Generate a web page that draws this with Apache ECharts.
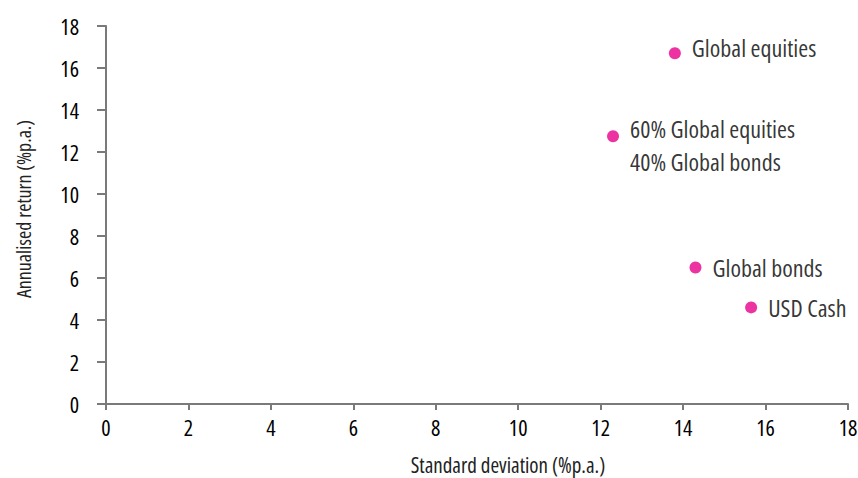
<!DOCTYPE html>
<html>
<head>
<meta charset="utf-8">
<script src="https://cdn.jsdelivr.net/npm/echarts@6/dist/echarts.min.js"></script>
<style>
html,body{margin:0;padding:0;background:#fff}
#c{width:858px;height:478px}
#c svg text{font-stretch:75% !important;}
</style>
</head>
<body>
<div id="c"></div>
<script>
const names = ['Global equities', '60% Global equities\n40% Global bonds', 'Global bonds', 'USD Cash'];
const stdDev = [13.8, 12.3, 14.3, 15.65];
const annReturn = [16.7, 12.75, 6.5, 4.6];
const ticks = [0, 2, 4, 6, 8, 10, 12, 14, 16, 18];

const FONT = '"Open Sans", sans-serif';
const labelShift = [-6, 9, 0, 0];
const chart = echarts.init(document.getElementById('c'), null, { renderer: 'svg' });
const data = names.map((n, i) => ({
  name: n,
  value: [stdDev[i], annReturn[i]],
  label: { offset: [0, labelShift[i]] }
}));
chart.setOption({
  animation: false,
  grid: { left: 106, right: 10, top: 26, bottom: 74, containLabel: false, outerBoundsMode: 'none' },
  xAxis: {
    type: 'value', min: ticks[0], max: ticks[ticks.length - 1], interval: 2,
    name: 'Standard deviation (%p.a.)', nameLocation: 'middle', nameGap: 50,
    nameTextStyle: { fontFamily: FONT, fontSize: 21, color: '#222', padding: [0, 0, 0, 62] },
    axisLine: { show: true, lineStyle: { color: '#7a7a7a', width: 2 } },
    axisTick: { show: true, length: 6, lineStyle: { color: '#7a7a7a', width: 2 } },
    axisLabel: { fontFamily: FONT, fontSize: 22, color: '#000', margin: 12 },
    splitLine: { show: false }
  },
  yAxis: {
    type: 'value', min: ticks[0], max: ticks[ticks.length - 1], interval: 2,
    name: 'Annualised return (%p.a.)', nameLocation: 'middle', nameGap: 73,
    nameTextStyle: { fontFamily: FONT, fontSize: 20, color: '#222', padding: [0, 0, 0, 12] },
    axisLine: { show: true, lineStyle: { color: '#7a7a7a', width: 2 } },
    axisTick: { show: true, length: 9, lineStyle: { color: '#7a7a7a', width: 2 } },
    axisLabel: { fontFamily: FONT, fontSize: 22, color: '#000', margin: 27 },
    splitLine: { show: false }
  },
  series: [{
    type: 'scatter',
    symbolSize: 12,
    itemStyle: { color: '#E8008A' },
    label: {
      show: true, position: 'right', distance: 11,
      formatter: p => p.name,
      fontFamily: FONT, fontSize: 24, color: '#000', lineHeight: 33
    },
    data: data
  }]
});
</script>
</body>
</html>
